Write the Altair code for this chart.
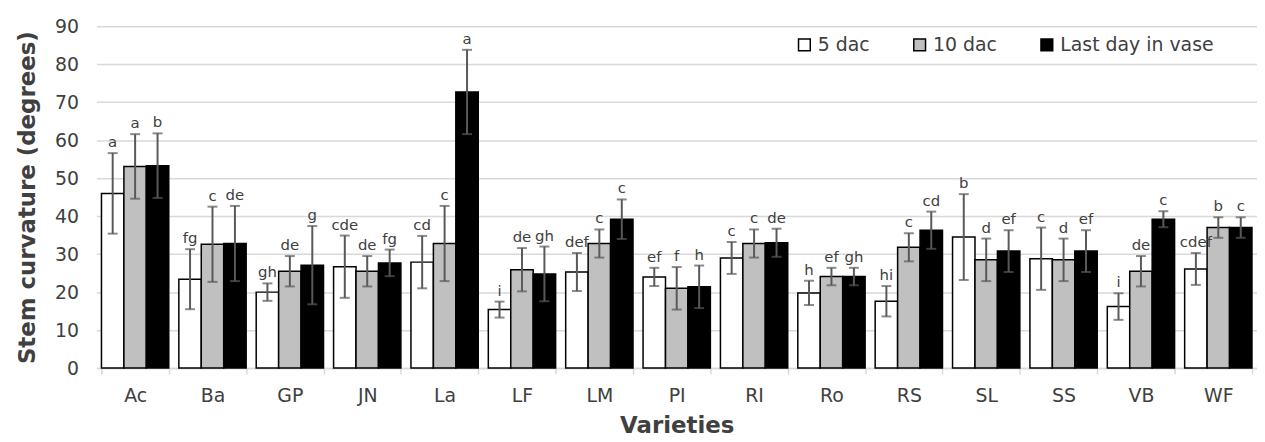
import altair as alt
import pandas as pd

varieties = ["Ac", "Ba", "GP", "JN", "La", "LF", "LM", "PI", "RI", "Ro", "RS", "SL", "SS", "VB", "WF"]
series = ["5 dac", "10 dac", "Last day in vase"]

dac5 = [46.0, 23.4, 20.0, 26.7, 27.9, 15.4, 25.3, 24.0, 29.0, 19.8, 17.6, 34.5, 28.8, 16.2, 26.1]
dac5_err = [10.6, 7.9, 2.3, 8.2, 6.9, 2.1, 5.0, 2.4, 4.2, 3.2, 4.0, 11.3, 8.2, 3.5, 4.2]
dac5_letters = ["a", "fg", "gh", "cde", "cd", "i", "def", "ef", "c", "h", "hi", "b", "c", "i", "cdef"]

dac10 = [53.1, 32.6, 25.5, 25.5, 32.8, 25.9, 32.8, 21.0, 32.8, 24.1, 31.8, 28.5, 28.5, 25.5, 37.0]
dac10_err = [8.5, 9.9, 4.0, 4.0, 9.9, 5.7, 3.7, 5.6, 3.7, 2.3, 3.7, 5.6, 5.6, 4.0, 2.7]
dac10_letters = ["a", "c", "de", "de", "c", "de", "c", "f", "c", "ef", "c", "d", "d", "de", "b"]

last = [53.3, 32.8, 27.1, 27.7, 72.7, 24.8, 39.2, 21.4, 33.0, 24.1, 36.3, 30.8, 30.8, 39.2, 37.0]
last_err = [8.5, 9.9, 10.3, 3.5, 11.1, 7.2, 5.2, 5.6, 3.7, 2.3, 4.9, 5.5, 5.5, 2.1, 2.7]
last_letters = ["b", "de", "g", "fg", "a", "gh", "c", "h", "de", "gh", "cd", "ef", "ef", "c", "c"]

rows = []
for s, vals, errs, lets in [
    (series[0], dac5, dac5_err, dac5_letters),
    (series[1], dac10, dac10_err, dac10_letters),
    (series[2], last, last_err, last_letters),
]:
    for v, val, e, l in zip(varieties, vals, errs, lets):
        rows.append({"variety": v, "series": s, "value": val,
                     "lo": val - e, "hi": val + e, "letter": l})
df = pd.DataFrame(rows)

FONT = "DejaVu Sans"
TXT = "#404040"
YTITLE = "Stem curvature (degrees)"

x_enc = alt.X(
    "variety:N", sort=varieties,
    scale=alt.Scale(paddingInner=0.13, paddingOuter=0.065),
    axis=alt.Axis(title="Varieties", labelAngle=0, labelFontSize=19, labelFont=FONT,
                  labelColor=TXT, labelPadding=13, domainColor="#d9d9d9", domainWidth=1.5,
                  tickColor="#d9d9d9", tickWidth=1.5, tickSize=6, tickBand="extent",
                  titleFontSize=23, titleFont=FONT, titleFontWeight="bold", titleColor=TXT,
                  titlePadding=9, grid=False),
)
xo_enc = alt.XOffset("series:N", sort=series, scale=alt.Scale(domain=series, paddingInner=0, paddingOuter=0))


def y_enc(field):
    return alt.Y(
        f"{field}:Q", title=YTITLE,
        scale=alt.Scale(domain=[0, 90], nice=False),
        axis=alt.Axis(values=list(range(0, 91, 10)), domain=False, ticks=False, grid=True,
                      gridColor="#d9d9d9", gridWidth=1.5, labelFontSize=19, labelFont=FONT,
                      labelColor=TXT, labelPadding=18, titleFontSize=23, titleFont=FONT,
                      titleFontWeight="bold", titleColor=TXT, titlePadding=15),
    )


base = alt.Chart(df).encode(x=x_enc, xOffset=xo_enc)

bars = base.mark_bar(stroke="black", strokeWidth=1.5).encode(
    y=y_enc("value"),
    color=alt.Color(
        "series:N", sort=series,
        scale=alt.Scale(domain=series, range=["white", "#c0c0c0", "black"]),
        legend=alt.Legend(title=None, orient="none", legendX=703, legendY=9,
                          direction="horizontal", symbolType="square", symbolSize=140,
                          symbolStrokeColor="black", symbolStrokeWidth=1.5,
                          labelFontSize=19, labelFont=FONT, labelColor=TXT,
                          labelOffset=4, columnPadding=40),
    ),
)

rules = base.mark_rule(color="#595959", strokeWidth=2).encode(y=y_enc("lo"), y2="hi:Q")
cap_hi = base.mark_tick(color="#595959", thickness=2, size=10).encode(y=y_enc("hi"))
cap_lo = base.mark_tick(color="#595959", thickness=2, size=10).encode(y=y_enc("lo"))
labels = base.mark_text(fontSize=15, font=FONT, color=TXT, baseline="bottom", dy=-3).encode(
    y=y_enc("hi"), text="letter:N"
)

chart = alt.layer(bars, rules, cap_hi, cap_lo, labels).properties(
    width=1168, height=344,
    autosize=alt.AutoSizeParams(type="none"),
    padding={"left": 89, "top": 17, "right": 0, "bottom": 73},
).configure_view(stroke=None)

chart.save("out.html", embed_options={"renderer": "svg", "actions": False})
